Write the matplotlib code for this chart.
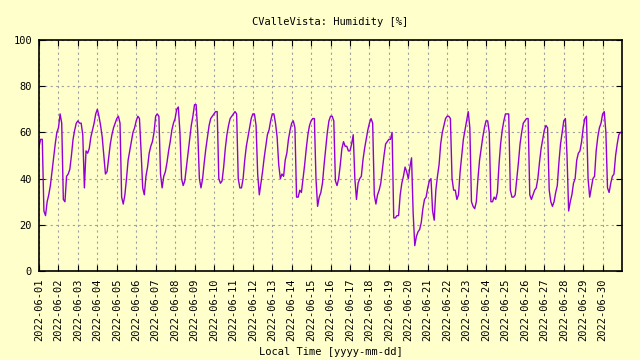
"""
Humidity at CValleVista, June 2022 (2-hourly readings).
"""

import numpy as np
import pandas as pd
import matplotlib
matplotlib.use("Agg")
import matplotlib.pyplot as plt
import matplotlib.dates as mdates

TITLE = "CValleVista: Humidity [%]"
XLABEL = "Local Time [yyyy-mm-dd]"

START = "2022-06-01"
END = "2022-07-01"

# humidity per day, readings at 00,02,...,22 h
day01 = [54, 57, 57, 26, 24, 30, 33, 37, 43, 49, 55, 60]
day02 = [62, 68, 64, 31, 30, 41, 42, 44, 50, 57, 61, 64]
day03 = [65, 64, 64, 59, 36, 52, 51, 53, 58, 61, 64, 68]
day04 = [70, 67, 63, 58, 50, 42, 43, 49, 55, 59, 62, 64]
day05 = [66, 67, 64, 32, 29, 33, 40, 48, 52, 56, 60, 62]
day06 = [65, 67, 66, 52, 36, 33, 41, 45, 51, 54, 56, 60]
day07 = [67, 68, 67, 42, 36, 41, 43, 47, 52, 56, 61, 64]
day08 = [66, 70, 71, 60, 40, 37, 39, 45, 51, 57, 63, 67]
day09 = [72, 72, 60, 40, 36, 40, 47, 53, 58, 63, 66, 67]
day10 = [68, 69, 69, 40, 38, 39, 45, 53, 59, 63, 66, 67]
day11 = [68, 69, 68, 40, 36, 36, 40, 48, 54, 58, 62, 66]
day12 = [68, 68, 63, 42, 33, 38, 43, 49, 54, 59, 61, 65]
day13 = [68, 68, 64, 58, 46, 40, 42, 41, 48, 51, 57, 61]
day14 = [64, 65, 62, 32, 32, 35, 34, 40, 46, 53, 59, 63]
day15 = [65, 66, 66, 40, 28, 32, 34, 38, 46, 53, 60, 65]
day16 = [67, 67, 65, 39, 37, 40, 46, 53, 56, 54, 54, 52]
day17 = [52, 55, 59, 40, 31, 38, 40, 41, 48, 53, 57, 61]
day18 = [64, 66, 64, 33, 29, 33, 35, 38, 44, 50, 55, 56]
day19 = [57, 57, 60, 23, 23, 24, 24, 33, 38, 41, 45, 43]
day20 = [40, 45, 49, 25, 11, 15, 17, 18, 21, 27, 31, 32]
day21 = [36, 39, 40, 26, 22, 35, 41, 46, 55, 60, 63, 66]
day22 = [67, 67, 66, 40, 35, 35, 31, 33, 43, 50, 57, 61]
day23 = [65, 69, 62, 30, 28, 27, 30, 40, 48, 53, 58, 62]
day24 = [65, 65, 60, 30, 30, 32, 31, 34, 46, 55, 61, 65]
day25 = [68, 68, 68, 35, 32, 32, 33, 40, 47, 55, 60, 64]
day26 = [65, 66, 66, 33, 31, 33, 35, 36, 40, 47, 53, 57]
day27 = [61, 63, 62, 35, 30, 28, 30, 34, 37, 47, 55, 60]
day28 = [65, 66, 50, 26, 30, 33, 38, 40, 48, 51, 52, 56]
day29 = [62, 66, 67, 40, 32, 36, 40, 41, 52, 58, 62, 64]
day30 = [68, 69, 60, 36, 34, 38, 41, 42, 50, 55, 59, 60]

days = [day01, day02, day03, day04, day05, day06, day07, day08, day09, day10,
        day11, day12, day13, day14, day15, day16, day17, day18, day19, day20,
        day21, day22, day23, day24, day25, day26, day27, day28, day29, day30]

humidity = np.concatenate(days)
times = pd.date_range(START, periods=len(humidity), freq="2h")

BG = "#ffffcc"
LINE = "#9400d3"
FONT = "DejaVu Sans Mono"

plt.rcParams["font.family"] = FONT
plt.rcParams["font.size"] = 7.5

fig = plt.figure(figsize=(6.4, 3.6), dpi=100, facecolor=BG)
ax = fig.add_axes([0.061, 0.247, 0.911, 0.642])
ax.set_facecolor(BG)

ax.plot(times, humidity, color=LINE, linewidth=1.0)

ax.set_xlim(pd.Timestamp(START), pd.Timestamp(END))
ax.set_ylim(0, 100)
ax.set_yticks(range(0, 101, 20))

day_ticks = pd.date_range(START, "2022-06-30", freq="D")
ax.set_xticks(day_ticks)
ax.xaxis.set_major_formatter(mdates.DateFormatter("%Y-%m-%d"))
plt.setp(ax.get_xticklabels(), rotation=90)

ax.tick_params(direction="in", length=4, width=0.8, top=True, right=True,
               labelsize=7.5, colors="black", pad=5)

ax.grid(True, color="#a0a0a0", linestyle=(0, (2, 3)), linewidth=0.8)
for s in ax.spines.values():
    s.set_linewidth(1.2)

ax.set_title(TITLE, fontsize=7.5, pad=11)
ax.set_xlabel(XLABEL, fontsize=7.5, labelpad=5)

fig.savefig("out.png", dpi=100, facecolor=BG)
